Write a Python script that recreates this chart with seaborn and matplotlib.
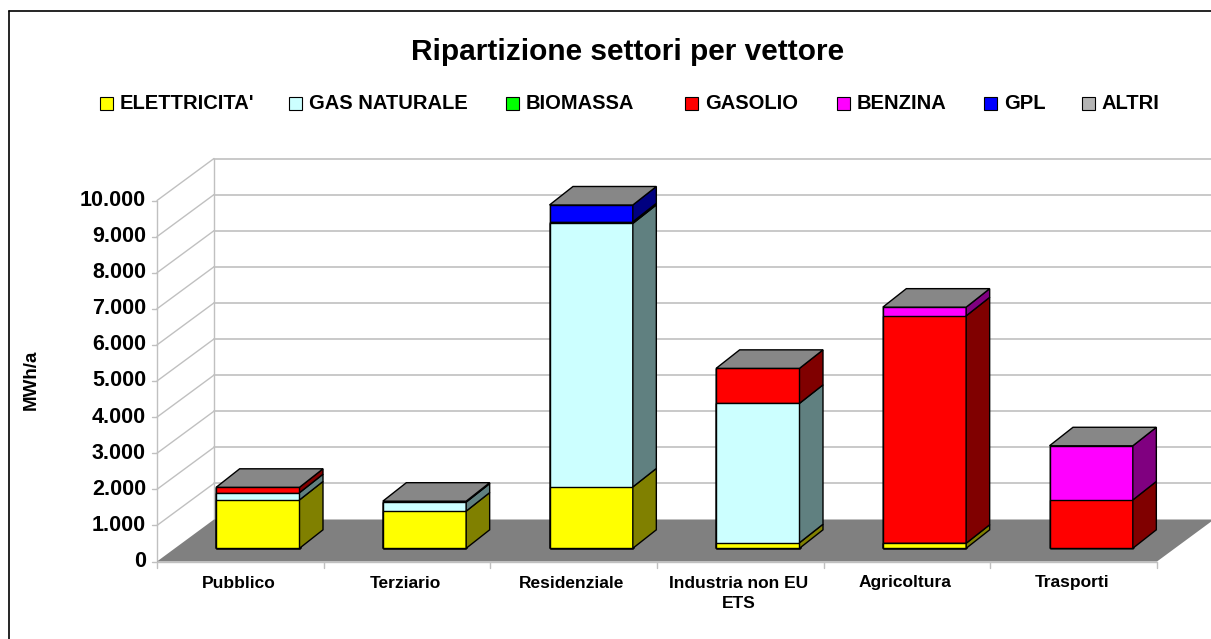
import matplotlib
matplotlib.use("Agg")
import numpy as np
import pandas as pd
import seaborn as sns
import matplotlib.pyplot as plt
from matplotlib.patches import Polygon, Rectangle
from matplotlib.lines import Line2D

# ---------------- data ----------------
settori = ["Pubblico", "Terziario", "Residenziale", "Industria non EU\nETS", "Agricoltura", "Trasporti"]
vettori = ["ELETTRICITA'", "GAS NATURALE", "BIOMASSA", "GASOLIO", "BENZINA", "GPL", "ALTRI"]
elettricita = [1340, 1030, 1700, 155, 140, 0]
gas_naturale = [200, 250, 7300, 3860, 0, 0]
biomassa = [0, 0, 0, 0, 0, 0]
gasolio = [150, 0, 45, 970, 6300, 1340]
benzina = [0, 0, 0, 0, 240, 1500]
gpl = [0, 25, 465, 0, 0, 0]
altri = [0, 0, 0, 0, 0, 0]
ytick_vals = list(range(0, 10001, 1000))
ytick_labels = [f"{v:,}".replace(",", ".") for v in ytick_vals]

colori_fronte = ["#FFFF00", "#CCFFFF", "#00FF00", "#FF0000", "#FF00FF", "#0000FF", "#B4B4B4"]
colori_lato = ["#808000", "#608080", "#008000", "#800000", "#800080", "#000080", "#5A5A5A"]
colore_cima = "#878787"

serie = [elettricita, gas_naturale, biomassa, gasolio, benzina, gpl, altri]

# ---------------- figure ----------------
sns.set_style("white")
plt.rcParams["font.family"] = ["Liberation Sans", "DejaVu Sans"]
plt.rcParams["text.color"] = "black"
W, H = 1211, 639
fig = plt.figure(figsize=(W / 100, H / 100), dpi=100)
fig.patch.set_facecolor("white")

# frame (top and left visible)
fig.add_artist(Line2D([9 / W, 9 / W], [0, 1 - 11 / H], color="black", lw=1.2))
fig.add_artist(Line2D([9 / W, 1], [1 - 11 / H, 1 - 11 / H], color="black", lw=1.2))

x0px, x1px, y0px, y1px = 157, 1157, 561.5, 200.5
ax = fig.add_axes([x0px / W, 1 - y0px / H, (x1px - x0px) / W, (y0px - y1px) / H])
ax.set_axis_off()

n = len(settori)
ux = n / (x1px - x0px)          # data units per px (x)
uy = 10000 / (y0px - y1px)      # data units per px (y)
Dx, Dy = 57 * ux, 42 * uy       # full floor depth
fx, fy = 17.5 * ux, 13.2 * uy   # bar front offset
bx, by = 23.5 * ux, 18.5 * uy   # bar depth
bw = 0.5
grid_c = "#C0C0C0"
xl, xr = -0.5, n - 0.5

# floor
ax.add_patch(Polygon([(xl, 0), (xr, 0), (xr + Dx, Dy), (xl + Dx, Dy)],
                     closed=True, facecolor="#808080", edgecolor="none", zorder=1, clip_on=False))
# walls gridlines
for v in ytick_vals[1:]:
    ax.add_line(Line2D([xl, xl + Dx], [v, v + Dy], color=grid_c, lw=1, zorder=0.5, clip_on=False))
    ax.add_line(Line2D([xl + Dx, xr + Dx + 1], [v + Dy, v + Dy], color=grid_c, lw=1.2, zorder=0.5, clip_on=False))
ax.add_line(Line2D([xl, xl], [0, 10000], color=grid_c, lw=1, zorder=0.5, clip_on=False))
ax.add_line(Line2D([xl + Dx, xl + Dx], [Dy, 10000 + Dy], color=grid_c, lw=1, zorder=0.5, clip_on=False))
# floor front edge / ticks
ax.add_line(Line2D([xl, xr], [0, 0], color=grid_c, lw=1, zorder=1.2, clip_on=False))
for v, lab in zip(ytick_vals, ytick_labels):
    ax.add_line(Line2D([xl - 5 * ux, xl], [v, v], color=grid_c, lw=1, clip_on=False))
    ax.text(xl - 11 * ux, v, lab, ha="right", va="center", fontsize=15.5, fontweight="bold", color="black")
for i in range(n + 1):
    ax.add_line(Line2D([xl + i, xl + i], [0, -6 * uy], color=grid_c, lw=1, clip_on=False))
for i, s in enumerate(settori):
    ax.text(i - 2 * ux, -14 * uy, s, ha="center", va="top", fontsize=12.5, fontweight="bold",
            linespacing=1.5, color="black")

# ---------------- bars ----------------
vals = np.array(serie, dtype=float)          # (7, n)
cum = np.cumsum(vals, axis=0)
bottoms = cum - vals

# front faces through seaborn (cumulative overlap trick, drawn from top series down)
for k in reversed(range(len(vettori))):
    df = pd.DataFrame({"Settore": settori, "MWh": cum[k]})
    before = len(ax.patches)
    sns.barplot(data=df, x="Settore", y="MWh", color=colori_fronte[k], width=bw,
                edgecolor="black", linewidth=1, saturation=1, errorbar=None, ax=ax)
    for p in ax.patches[before:]:
        p.set_x(p.get_x() + fx)
        p.set_y(p.get_y() + fy)
        p.set_zorder(3)
        p.set_clip_on(False)
        if p.get_height() <= 0:
            p.set_visible(False)

# side and top faces
for i in range(n):
    xrt = i + bw / 2 + fx
    xlt = i - bw / 2 + fx
    for k in range(len(vettori)):
        if vals[k, i] <= 0:
            continue
        y0 = bottoms[k, i] + fy
        y1 = cum[k, i] + fy
        ax.add_patch(Polygon([(xrt, y0), (xrt + bx, y0 + by), (xrt + bx, y1 + by), (xrt, y1)],
                             closed=True, facecolor=colori_lato[k], edgecolor="black",
                             lw=1, zorder=3.5, clip_on=False))
    T = cum[-1, i] + fy
    ax.add_patch(Polygon([(xlt, T), (xrt, T), (xrt + bx, T + by), (xlt + bx, T + by)],
                         closed=True, facecolor=colore_cima, edgecolor="black",
                         lw=1, zorder=3.6, clip_on=False))

ax.set_xlim(xl, xr)
ax.set_ylim(0, 10000)

# ---------------- texts / legend ----------------
fig.text(628 / W, 1 - 52 / H, "Ripartizione settori per vettore", ha="center", va="center",
         fontsize=21.5, fontweight="bold", color="black")
fig.text(31 / W, 1 - 380 / H, "MWh/a", rotation=90, ha="center", va="center",
         fontsize=13.5, fontweight="bold", color="black")

leg_x = [100, 289, 506, 685, 837, 984, 1082]
for xk, lab, c in zip(leg_x, vettori, colori_fronte):
    fig.add_artist(Rectangle((xk / W, 1 - 110 / H), 13 / W, 13 / H, facecolor=c,
                             edgecolor="black", lw=0.8, transform=fig.transFigure))
    fig.text((xk + 20) / W, 1 - 103.5 / H, lab, ha="left", va="center",
             fontsize=14.5, fontweight="bold", color="black")

fig.savefig("out.png", dpi=100)
